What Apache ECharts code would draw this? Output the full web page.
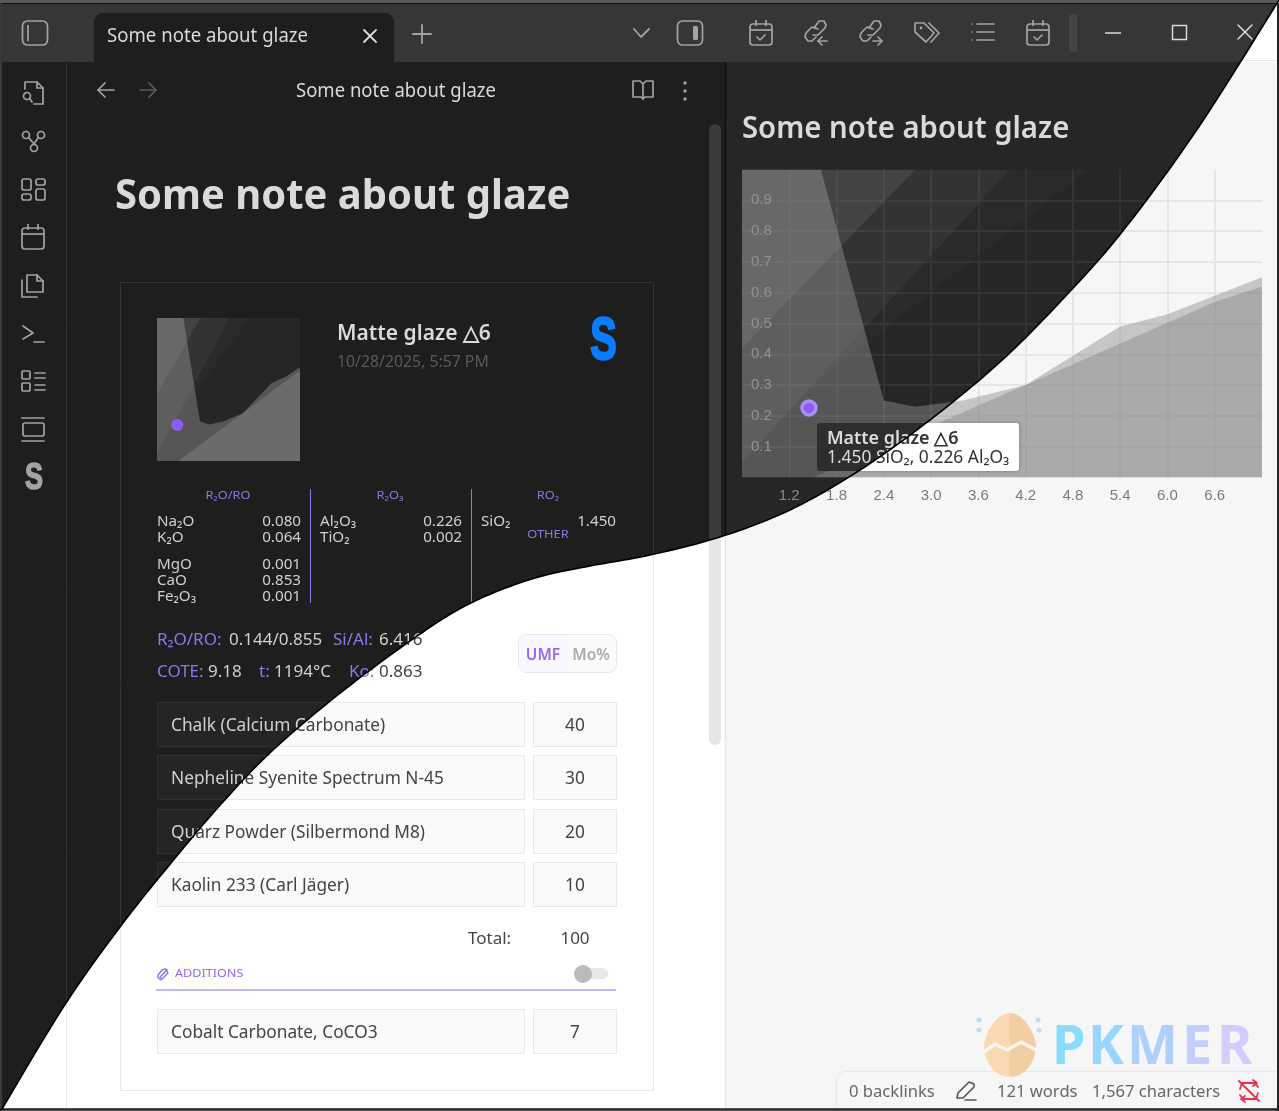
<!DOCTYPE html>
<html>
<head>
<meta charset="utf-8">
<title>Some note about glaze</title>
<script src="https://cdn.jsdelivr.net/npm/echarts@6/dist/echarts.min.js"></script>
<style>
html, body { margin: 0; padding: 0; background: #fff; overflow: hidden; }
.layer { position: absolute; left: 0; top: 0; width: 1279px; height: 1111px; }
</style>
</head>
<body>
<div id="lightLayer" class="layer"></div>
<div id="darkLayer" class="layer"></div>
<script>
// stull chart regions, [SiO2, Al2O3]
const mainRegion = [[0.6, 0], [7.2, 0], [7.2, 0.65], [6.0, 0.53], [5.4, 0.49], [4.2, 0.3], [3.4, 0.25], [2.8, 0.23], [2.4, 0.25], [1.6, 1], [0.6, 1]];
const lowerRegion = [[1.5, 0], [7.2, 0], [7.2, 0.62], [6.6, 0.57], [4.2, 0.3]];
const upperBandC = [[0.6, 0.42], [2.8, 1], [0.6, 1]];
const upperBandD = [[0.6, 0.05], [4.0, 1], [0.6, 1]];
const upperBandE = [[0.6, 0.05], [1.5, 0.3], [5.0, 1], [0.6, 1]];
const glazePoint = [1.45, 0.226];

// unity formula table
const fluxNames = ['Na₂O', 'K₂O', 'MgO', 'CaO', 'Fe₂O₃'];
const fluxValues = ['0.080', '0.064', '0.001', '0.853', '0.001'];
const r2o3Names = ['Al₂O₃', 'TiO₂'];
const r2o3Values = ['0.226', '0.002'];

// recipe
const materials = ['Chalk (Calcium Carbonate)', 'Nepheline Syenite Spectrum N-45', 'Quarz Powder (Silbermond M8)', 'Kaolin 233 (Carl Jäger)'];
const amounts = ['40', '30', '20', '10'];
const additions = ['Cobalt Carbonate, CoCO3'];
const additionAmounts = ['7'];

// S curve that splits the dark and the light half of the picture
const splitPoints = [[1279, 0], [1198, 128], [1122, 232], [1060, 302], [1000, 362], [930, 420], [860, 470], [790, 510], [720, 537], [650, 555], [590, 566], [535, 578], [475, 601], [423, 632], [344, 690], [273, 750], [222, 803], [171, 863], [120, 927], [64, 1006], [2, 1109]];

const FONT = '"Noto Sans", sans-serif';

const darkTheme = {
    name: 'dark', sidebar: '#1e1e1e', pane: '#1e1e1e', right: '#262626', bar: '#363636', tab: '#1e1e1e',
    divider: '#101010', sideLine: '#333333', text: '#dadada', title: '#dadada', body: '#d0d0d0', muted: '#5a5a5a',
    icon: '#a3a3a3', iconDim: '#5c5c5c', scroll: '#3a3a3a', card: '#333333', inputBg: '#252525', inputLine: '#333333',
    grid: '#333333', axisText: '#8c8c8c', thumbBg: '#262626',
    tipBg: '#2e2e2e', tipText: '#dcdcdc', purple: '#8f78e6', rule: '#8f78e6',
    umfBg: '#252525', moText: '#666666',
    regionMain: 'rgba(160,160,160,0.4)', regionLower: 'rgba(140,140,140,0.4)',
    bandC: 'rgba(128,128,128,0.22)', bandD: 'rgba(128,128,128,0.105)', bandE: 'rgba(128,128,128,0.045)'
};
const lightTheme = {
    name: 'light', sidebar: '#ffffff', pane: '#ffffff', right: '#f6f6f6', bar: '#ffffff', tab: '#ffffff',
    divider: '#e6e6e6', sideLine: '#e6e6e6', text: '#333333', title: '#333333', body: '#444444', muted: '#aaaaaa',
    icon: '#5c5c5c', iconDim: '#bbbbbb', scroll: '#e6e6e6', card: '#e8e8e8', inputBg: '#fafafa', inputLine: '#e8e8e8',
    grid: '#e6e6e6', axisText: '#7a7a7a', thumbBg: '#f6f6f6',
    tipBg: '#ffffff', tipText: '#333333', purple: '#8f6cf2', rule: '#b49cf5',
    umfBg: '#f8f6ff', moText: '#aaaaaa',
    regionMain: 'rgba(128,128,128,0.4)', regionLower: 'rgba(128,128,128,0.4)',
    bandC: 'rgba(128,128,128,0.22)', bandD: 'rgba(128,128,128,0.105)', bandE: 'rgba(128,128,128,0.045)'
};

// catmull-rom through the split points, used for the clip and for the black line
function sampleSplit() {
    const out = [];
    const p = splitPoints;
    for (let i = 0; i < p.length - 1; i++) {
        const a = p[Math.max(i - 1, 0)], b = p[i], c = p[i + 1], d = p[Math.min(i + 2, p.length - 1)];
        for (let k = 0; k < 12; k++) {
            const t = k / 12, t2 = t * t, t3 = t2 * t;
            out.push([0, 1].map(j => 0.5 * (2 * b[j] + (c[j] - a[j]) * t + (2 * a[j] - 5 * b[j] + 4 * c[j] - d[j]) * t2 + (3 * b[j] - a[j] - 3 * c[j] + d[j]) * t3)));
        }
    }
    out.push(p[p.length - 1]);
    return out;
}
const splitLine = sampleSplit();

function rect(x, y, w, h, fill, stroke, r, z) {
    return { type: 'rect', z: z === undefined ? -5 : z, silent: true, shape: { x: x, y: y, width: w, height: h, r: r || 0 }, style: { fill: fill || 'transparent', stroke: stroke || null, lineWidth: 1 } };
}
function text(str, x, y, size, color, opts) {
    opts = opts || {};
    const style = { text: str, fill: color, fontSize: size, fontWeight: opts.weight || 400, fontFamily: opts.family || FONT, textAlign: opts.align || 'left', textVerticalAlign: 'middle' };
    if (opts.stroke) {
        style.stroke = color;
        style.lineWidth = opts.stroke;
    }
    return { type: 'text', x: x, y: y + 1.5, z: opts.z === undefined ? -3 : opts.z, silent: true, scaleX: opts.scaleX || 1, scaleY: opts.scaleY || 1, style: style };
}
function line(x1, y1, x2, y2, color, w, z) {
    return { type: 'line', z: z === undefined ? -4 : z, silent: true, shape: { x1: x1, y1: y1, x2: x2, y2: y2 }, style: { stroke: color, lineWidth: w || 1 } };
}
function poly(points, color, w, z) {
    return { type: 'polyline', z: z === undefined ? -3 : z, silent: true, shape: { points: points }, style: { stroke: color, lineWidth: w || 1.7, fill: null, lineJoin: 'round', lineCap: 'round' } };
}
function circle(cx, cy, r, fill, stroke, w, z) {
    return { type: 'circle', z: z === undefined ? -3 : z, silent: true, shape: { cx: cx, cy: cy, r: r }, style: { fill: fill || 'transparent', stroke: stroke || null, lineWidth: w || 1.7 } };
}
function iconGroup(cx, cy, children) {
    return { type: 'group', x: cx, y: cy, silent: true, children: children };
}

// small line icons
function calendarIcon(c, check) {
    const parts = [rect(-11, -9, 22, 21, null, c, 3, -3), line(-11, -3, 11, -3, c, 1.7, -3), line(-5, -13, -5, -7, c, 1.7, -3), line(5, -13, 5, -7, c, 1.7, -3)];
    parts[0].style.lineWidth = 1.7;
    if (check) parts.push(poly([[-4, 4], [-1, 7], [4, 2]], c));
    return parts;
}
function linkIcon(c, dir) {
    const parts = [poly([[-2, -4], [3, -11], [8, -11], [10, -7], [9, -4], [2, 3], [-3, 3]], c), poly([[2, -3], [-4, -5], [-10, 1], [-11, 5], [-8, 9], [-4, 9], [0, 5]], c)];
    if (dir < 0) parts.push(poly([[11, 9], [2, 9]], c), poly([[6, 5], [2, 9], [6, 13]], c));
    else parts.push(poly([[2, 9], [11, 9]], c), poly([[7, 5], [11, 9], [7, 13]], c));
    return parts;
}

function uiElements(th) {
    const els = [];
    const c = th.icon;
    // panes
    els.push(rect(0, 0, 1279, 1111, th.pane, null, 0, -8));
    els.push(rect(726, 60, 553, 1051, th.right, null, 0, -8));
    els.push(rect(0, 0, 1279, 62, th.bar, null, 0, -7));
    if (th.name === 'light') els.push(line(726, 60.5, 1279, 60.5, '#e6e6e6', 1, -6));
    els.push(line(66.5, 62, 66.5, 1111, th.sideLine, 1, -6));
    els.push(line(725.5, 62, 725.5, 1111, th.divider, 1.5, -6));
    // tab
    els.push(rect(94, 13, 300, 52, th.tab, null, [9, 9, 0, 0], -6));
    els.push(text('Some note about glaze', 107, 35, 20, th.text, { scaleX: 0.93 }));
    els.push(poly([[364, 30], [376, 42]], th.text, 1.8), poly([[376, 30], [364, 42]], th.text, 1.8));
    els.push(poly([[422, 25], [422, 43]], c, 1.8), poly([[413, 34], [431, 34]], c, 1.8));
    els.push(poly([[634, 29], [641, 37], [649, 29]], c, 1.8));
    els.push(iconGroup(35, 33, [rect(-12.5, -12, 25, 24, null, c, 5, -3), line(-7, -8, -7, 8, c, 1.7, -3)]));
    els[els.length - 1].children[0].style.lineWidth = 1.7;
    els.push(iconGroup(690, 33, [rect(-12.5, -12, 25, 24, null, c, 5, -3), rect(3, -7, 5, 14, c, null, 1.5, -3)]));
    els[els.length - 1].children[0].style.lineWidth = 1.7;
    // note header
    els.push(poly([[114, 90], [98, 90]], c, 1.7), poly([[105, 83], [98, 90], [105, 97]], c, 1.7));
    els.push(poly([[140, 90], [156, 90]], th.iconDim, 1.7), poly([[149, 83], [156, 90], [149, 97]], th.iconDim, 1.7));
    els.push(text('Some note about glaze', 296, 90, 20, th.text, { scaleX: 0.925 }));
    els.push(iconGroup(643, 90, [poly([[0, -6], [-3, -9], [-10, -9], [-10, 7], [-2, 7], [0, 9], [2, 7], [10, 7], [10, -9], [3, -9], [0, -6], [0, 9]], c)]));
    els.push(circle(685, 83, 1.7, c), circle(685, 91, 1.7, c), circle(685, 99, 1.7, c));
    // right toolbar
    els.push(iconGroup(761, 33, calendarIcon(c, true)));
    els.push(iconGroup(816, 32, linkIcon(c, -1)));
    els.push(iconGroup(871, 32, linkIcon(c, 1)));
    els.push(iconGroup(927, 33, [poly([[-12, -10], [-3, -10], [7, 0], [-1, 9], [-12, -1], [-12, -10]], c), poly([[2, -10], [12, 0], [4, 9]], c), circle(-6, -5, 1.4, c)]));
    els.push(iconGroup(983, 32, [poly([[-6, -8], [11, -8]], c), poly([[-6, 0], [11, 0]], c), poly([[-6, 8], [11, 8]], c), circle(-11, -8, 0.8, c), circle(-11, 0, 0.8, c), circle(-11, 8, 0.8, c)]));
    els.push(iconGroup(1038, 33, calendarIcon(c, true)));
    els.push(rect(1069, 14, 8, 38, th.name === 'dark' ? '#444444' : '#eeeeee', null, [4, 0, 0, 4], -4));
    els.push(line(1105, 33, 1121, 33, th.text, 1.5));
    els.push(rect(1172.5, 25.5, 14, 14, null, th.text, 0, -3));
    els[els.length - 1].style.lineWidth = 1.5;
    els.push(poly([[1238, 25], [1252, 39]], th.text, 1.5), poly([[1252, 25], [1238, 39]], th.text, 1.5));
    // sidebar icons
    const sideY = [93, 141, 189, 237, 285, 333, 381, 429];
    els.push(iconGroup(33, sideY[0], [poly([[-8, -4], [-8, -11], [4, -11], [10, -5], [10, 11], [1, 11]], c), poly([[4, -11], [4, -5], [10, -5]], c), circle(-6, 3, 3.5, null, c), poly([[-3, 6], [-1, 9]], c)]));
    els.push(iconGroup(33, sideY[1], [circle(-7, -6, 3.5, null, c), circle(8, -6, 3.5, null, c), circle(1, 7, 3.5, null, c), poly([[-4, -3], [1, 3], [5, -3]], c)]));
    const dash = [rect(-11, -10, 9, 11, null, c, 2, -3), rect(3, -10, 9, 6, null, c, 2, -3), rect(-11, 5, 9, 6, null, c, 2, -3), rect(3, 0, 9, 11, null, c, 2, -3)];
    dash.forEach(d => { d.style.lineWidth = 1.7; });
    els.push(iconGroup(33, sideY[2], dash));
    els.push(iconGroup(33, sideY[3], calendarIcon(c, false)));
    els.push(iconGroup(33, sideY[4], [poly([[-6, 5], [-6, -10], [4, -10], [10, -4], [10, 7], [-6, 7], [-6, 5]], c), poly([[4, -10], [4, -4], [10, -4]], c), poly([[-11, -5], [-11, 12], [4, 12]], c)]));
    els.push(iconGroup(33, sideY[5], [poly([[-10, -7], [0, 0], [-10, 6]], c), poly([[1, 9], [11, 9]], c)]));
    const list = [rect(-11, -10, 8, 8, null, c, 1, -3), rect(-11, 2, 8, 8, null, c, 1, -3)];
    list.forEach(d => { d.style.lineWidth = 1.7; });
    [[-8], [-3], [4], [9]].forEach(v => list.push(poly([[2, v[0]], [12, v[0]]], c)));
    els.push(iconGroup(33, sideY[6], list));
    const shelf = rect(-10, -6, 21, 13, null, c, 2, -3);
    shelf.style.lineWidth = 1.7;
    els.push(iconGroup(33, sideY[7], [poly([[-11, -11], [11, -11]], c), shelf, poly([[-11, 12], [11, 12]], c)]));
    els.push(text('S', 34, 478, 36, c, { weight: 700, align: 'center', scaleX: 0.75, family: '"Liberation Sans"', stroke: 1.5 }));
    // scrollbar
    els.push(rect(709, 124, 12, 621, th.scroll, null, 6, -5));
    // headings
    els.push(text('Some note about glaze', 115, 196, 41, th.title, { weight: 700, scaleX: 0.975 }));
    els.push(text('Some note about glaze', 742, 128, 31, th.title, { weight: 600, scaleX: 0.945 }));
    // card
    els.push(rect(120.5, 282.5, 533, 808, null, th.card, 0, -5));
    els.push(text('Matte glaze △6', 337, 333, 21, th.text, { weight: 600 }));
    els.push(text('10/28/2025, 5:57 PM', 337, 361, 15.8, th.muted));
    els.push(text('S', 603.5, 341, 60, '#0a7cff', { weight: 700, align: 'center', scaleX: 0.66, family: '"Liberation Sans"', stroke: 2.5 }));
    // oxide table
    els.push(text('R₂O/RO', 228, 495, 10.5, th.purple, { align: 'center', scaleX: 1.22 }));
    els.push(text('R₂O₃', 390, 495, 10.5, th.purple, { align: 'center', scaleX: 1.22 }));
    els.push(text('RO₂', 548, 495, 10.5, th.purple, { align: 'center', scaleX: 1.22 }));
    els.push(text('OTHER', 548, 534, 10.5, th.purple, { align: 'center', scaleX: 1.22 }));
    els.push(line(310.5, 489, 310.5, 603, th.purple, 1), line(471.5, 489, 471.5, 603, th.purple, 1));
    const fluxY = [520, 536, 563, 579, 595];
    fluxNames.forEach((n, i) => {
        els.push(text(n, 157, fluxY[i], 15.2, th.body), text(fluxValues[i], 301, fluxY[i], 15.2, th.body, { align: 'right' }));
    });
    r2o3Names.forEach((n, i) => {
        els.push(text(n, 320, fluxY[i], 15.2, th.body), text(r2o3Values[i], 462, fluxY[i], 15.2, th.body, { align: 'right' }));
    });
    els.push(text('SiO₂', 481, 520, 15.2, th.body), text('1.450', 616, 520, 15.2, th.body, { align: 'right' }));
    // ratios
    els.push(text('R₂O/RO:', 157, 639, 17, th.purple), text('0.144/0.855', 229, 639, 17, th.body));
    els.push(text('Si/Al:', 333, 639, 17, th.purple), text('6.416', 379, 639, 17, th.body));
    els.push(text('COTE:', 157, 671, 17, th.purple), text('9.18', 208, 671, 17, th.body));
    els.push(text('t:', 259, 671, 17, th.purple), text('1194°C', 274, 671, 17, th.body));
    els.push(text('Ko:', 349, 671, 17, th.purple), text('0.863', 379, 671, 17, th.body));
    // UMF / Mo% switch
    els.push(rect(518.5, 634.5, 98, 38, th.inputBg, th.inputLine, 8, -5));
    els.push(rect(519, 635, 48, 37, th.umfBg, null, [8, 0, 0, 8], -4));
    els.push(text('UMF', 543, 654, 15.5, th.purple, { weight: 600, align: 'center' }));
    els.push(text('Mo%', 591, 654, 15.5, th.moText, { weight: 600, align: 'center' }));
    // recipe rows
    const rowY = [702, 755, 809, 862];
    materials.forEach((m, i) => {
        els.push(rect(157.5, rowY[i] + 0.5, 367, 44, th.inputBg, th.inputLine, 0, -5), rect(533.5, rowY[i] + 0.5, 83, 44, th.inputBg, th.inputLine, 0, -5));
        els.push(text(m, 171, rowY[i] + 23, 17.3, th.body), text(amounts[i], 575, rowY[i] + 23, 17.3, th.body, { align: 'center' }));
    });
    els.push(text('Total:', 468, 938, 17, th.body), text('100', 575, 938, 17, th.body, { align: 'center' }));
    // additions
    els.push(iconGroup(163, 974, [poly([[4, -4], [-3, 3], [-1, 5], [5, -1], [3, -5], [-1, -4], [-5, 1], [-5, 4], [-2, 6]], th.purple, 1.3)]));
    els.push(text('ADDITIONS', 175, 973, 10.5, th.purple, { scaleX: 1.2 }));
    els.push(rect(575, 968, 33, 11, th.inputLine, null, 5.5, -4), circle(583, 974, 9, '#bbbbbb'));
    els.push(line(156, 990, 616, 990, th.rule, 1.5));
    additions.forEach((m, i) => {
        els.push(rect(157.5, 1009.5, 367, 44, th.inputBg, th.inputLine, 0, -5), rect(533.5, 1009.5, 83, 44, th.inputBg, th.inputLine, 0, -5));
        els.push(text(m, 171, 1032, 17.3, th.body), text(additionAmounts[i], 575, 1032, 17.3, th.body, { align: 'center' }));
    });
    // status bar
    els.push(rect(836.5, 1071.5, 450, 50, th.right, th.inputLine, 9, -4));
    els.push(text('0 backlinks', 849, 1091, 16.6, '#666666'));
    els.push(iconGroup(966, 1091, [poly([[-9, 7], [-8, 2], [3, -9], [8, -7], [8, -4], [-3, 7], [-9, 7]], '#555555', 1.6), poly([[-1, 9], [10, 9]], '#555555', 1.6)]));
    els.push(text('121 words', 997, 1091, 16.6, '#666666'), text('1,567 characters', 1092, 1091, 16.6, '#666666'));
    els.push(iconGroup(1249, 1091, [poly([[-10, -10], [10, 10]], '#f02e4d', 1.8), poly([[-9, -2], [-7, -8], [6, -8], [9, -4]], '#f02e4d', 1.8), poly([[9, 2], [7, 8], [-6, 8], [-9, 4]], '#f02e4d', 1.8), poly([[4, -11], [8, -8], [4, -5]], '#f02e4d', 1.8), poly([[-4, 11], [-8, 8], [-4, 5]], '#f02e4d', 1.8)]));
    // watermark
    const egg = { cx: 1010, cy: 1045, rx: 26, ry: 32 };
    const eggSide = sign => {
        const pts = [];
        for (let i = 0; i <= 30; i++) {
            const a = -Math.PI / 2 + Math.PI * i / 30;
            const narrow = 1 - 0.18 * Math.max(0, -Math.sin(a));
            pts.push([egg.cx + sign * egg.rx * Math.cos(a) * narrow, egg.cy + egg.ry * Math.sin(a)]);
        }
        return { type: 'polygon', z: 40, silent: true, shape: { points: pts }, style: { fill: sign < 0 ? 'rgba(250,205,150,0.72)' : 'rgba(238,190,130,0.72)' } };
    };
    els.push(eggSide(-1), eggSide(1));
    els.push(poly([[984, 1052], [995, 1044], [1007, 1050], [1021, 1042], [1036, 1050]], '#f6f6f6', 3.5, 41));
    els.push(circle(979, 1020, 2.5, 'rgba(170,210,240,0.7)', null, 1, 41), circle(979, 1030, 2.5, 'rgba(170,210,240,0.7)', null, 1, 41));
    els.push(circle(1038, 1020, 2.5, 'rgba(170,210,240,0.7)', null, 1, 41), circle(1039, 1030, 2.5, 'rgba(170,210,240,0.7)', null, 1, 41));
    const wm = [['P', 1052, '#8adcff'], ['K', 1088, '#98d5ff'], ['M', 1127, '#aed0ff'], ['E', 1182, '#c2ceff'], ['R', 1217, '#d3ccff']];
    wm.forEach(w => els.push(text(w[0], w[1], 1047, 54, w[2], { weight: 700, z: 41 })));
    // tooltip of the glaze point
    const tip = rect(817, 423, 202, 48, th.tipBg, null, 3, 30);
    if (th.name === 'light') { tip.style.shadowBlur = 4; tip.style.shadowColor = 'rgba(0,0,0,0.25)'; }
    els.push(tip);
    els.push(text('Matte glaze △6', 827, 437, 17.9, th.tipText, { weight: 600, z: 31 }));
    els.push(text('1.450 SiO₂, 0.226 Al₂O₃', 827, 457, 17.4, th.tipText, { z: 31 }));
    // window frame
    els.push(rect(0, 0, 1279, 3, th.name === 'dark' ? '#5a5a5a' : '#e0e0e0', null, 0, 60));
    els.push(line(0, 3.5, 1279, 3.5, '#111111', 1, 60));
    els.push(line(1, 3, 1, 1111, '#3a3a3a', 2, 60), line(0, 1109.5, 1279, 1109.5, '#222222', 2.5, 60), line(1278, 3, 1278, 1111, '#222222', 2, 60));
    els.push(poly(splitLine, '#000000', 1.6, 70));
    return els;
}

function regionSeries(th, axisIndex) {
    const regions = [
        { points: upperBandE, fill: th.bandE },
        { points: upperBandD, fill: th.bandD },
        { points: upperBandC, fill: th.bandC },
        { points: mainRegion, fill: th.regionMain },
        { points: lowerRegion, fill: th.regionLower }
    ];
    return {
        type: 'custom',
        xAxisIndex: axisIndex,
        yAxisIndex: axisIndex,
        silent: true,
        z: 2,
        data: regions.map((r, i) => [i, 0]),
        renderItem: function (params, api) {
            const region = regions[api.value(0)];
            const cs = params.coordSys;
            return {
                type: 'polygon',
                shape: { points: region.points.map(p => api.coord(p)) },
                style: { fill: region.fill },
                clipPath: { type: 'rect', shape: { x: cs.x, y: cs.y, width: cs.width, height: cs.height } }
            };
        }
    };
}

function buildOption(th) {
    return {
        animation: false,
        backgroundColor: 'transparent',
        grid: [
            { left: 742, top: 169.5, width: 520, height: 308 },
            { left: 157, top: 318, width: 143, height: 143, show: true, backgroundColor: th.thumbBg, borderWidth: 0 }
        ],
        xAxis: [
            {
                type: 'value', gridIndex: 0, min: 0.6, max: 7.2, interval: 0.6,
                axisLine: { show: false }, axisTick: { show: false },
                axisLabel: { showMinLabel: false, showMaxLabel: false, margin: 11, fontSize: 15, fontFamily: '"Liberation Sans"', color: th.axisText, formatter: v => v.toFixed(1) },
                splitLine: { show: true, showMinLine: false, showMaxLine: false, lineStyle: { color: th.grid, width: 2 } }
            },
            { type: 'value', gridIndex: 1, min: 0.6, max: 6.6, axisLine: { show: false }, axisTick: { show: false }, axisLabel: { show: false }, splitLine: { show: false } }
        ],
        yAxis: [
            {
                type: 'value', gridIndex: 0, min: 0, max: 1, interval: 0.1,
                axisLine: { show: false }, axisTick: { show: false },
                axisLabel: { inside: true, showMinLabel: false, showMaxLabel: false, margin: 9, fontSize: 15, fontFamily: '"Liberation Sans"', color: th.axisText },
                splitLine: { show: true, showMinLine: false, showMaxLine: false, lineStyle: { color: th.grid, width: 2 } }
            },
            { type: 'value', gridIndex: 1, min: 0, max: 0.9, axisLine: { show: false }, axisTick: { show: false }, axisLabel: { show: false }, splitLine: { show: false } }
        ],
        series: [
            regionSeries(th, 0),
            regionSeries(th, 1),
            {
                type: 'scatter', xAxisIndex: 0, yAxisIndex: 0, z: 5, silent: true, symbolSize: 14,
                data: [glazePoint],
                itemStyle: { color: '#8b5cf6', borderColor: '#a98dfb', borderWidth: 3.5, opacity: 1 }
            },
            {
                type: 'scatter', xAxisIndex: 1, yAxisIndex: 1, z: 5, silent: true, symbolSize: 12,
                data: [glazePoint],
                itemStyle: { color: '#8b5cf6', opacity: 1 }
            }
        ],
        graphic: { elements: uiElements(th) }
    };
}

const lightChart = echarts.init(document.getElementById('lightLayer'));
lightChart.setOption(buildOption(lightTheme));

const darkDom = document.getElementById('darkLayer');
const clipPoints = splitLine.concat([[0, 1111], [0, 0]]).map(p => p[0] + 'px ' + p[1] + 'px').join(',');
darkDom.style.clipPath = 'polygon(' + clipPoints + ')';
const darkChart = echarts.init(darkDom);
darkChart.setOption(buildOption(darkTheme));
</script>
</body>
</html>
